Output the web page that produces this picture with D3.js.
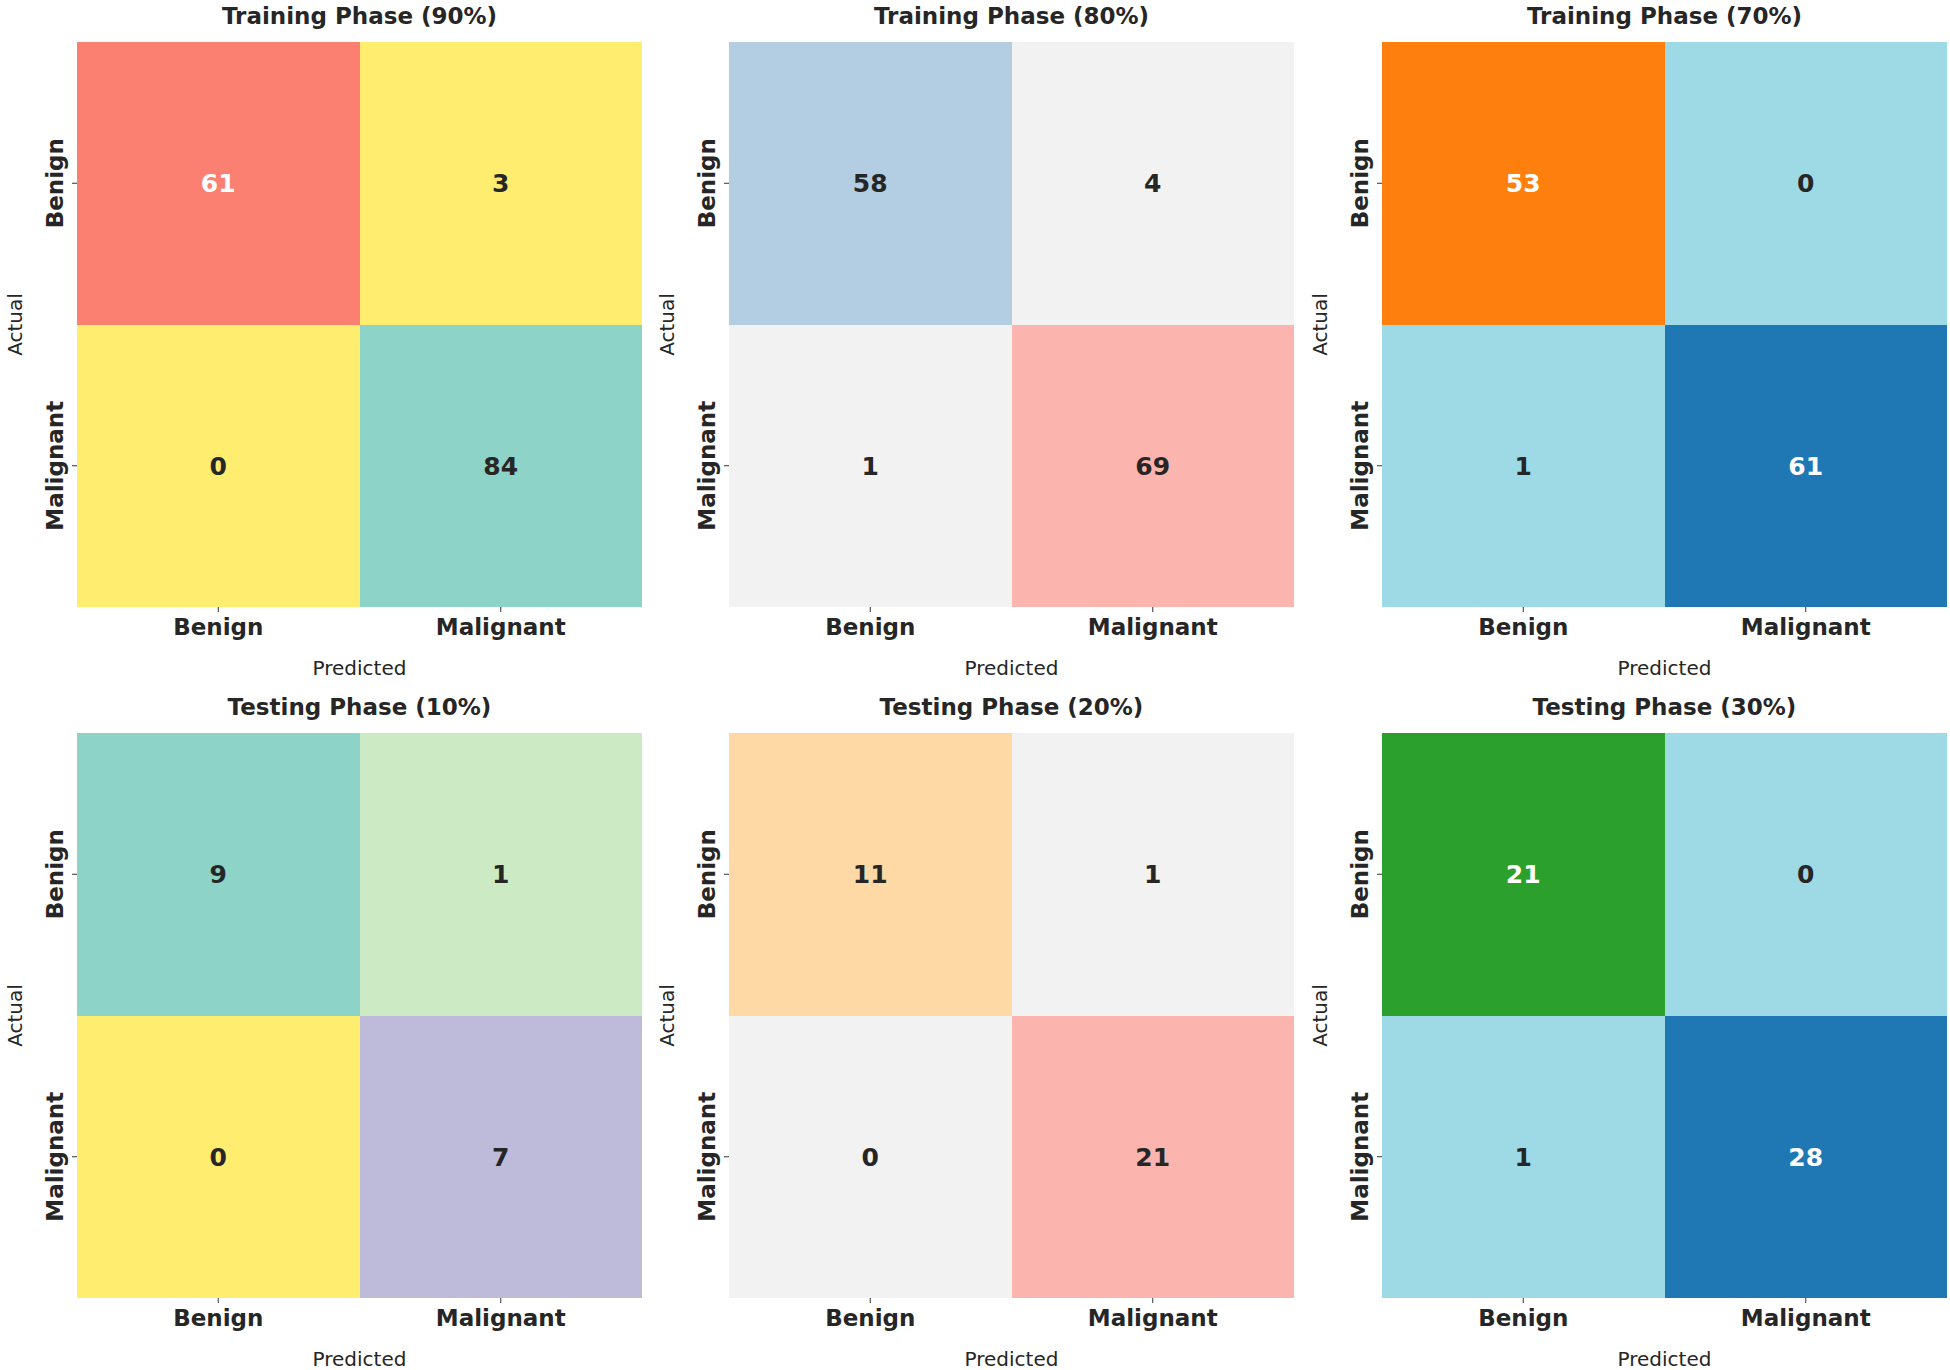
<!DOCTYPE html>
<html>
<head>
<meta charset="utf-8">
<script src="https://cdn.jsdelivr.net/npm/d3@7"></script>
<style>
  body { margin: 0; background: #fff; }
  text { font-family: "DejaVu Sans", sans-serif; }
</style>
</head>
<body>
<div id="chart"></div>
<script>
const classes = ["Benign", "Malignant"];

const titles = [
  "Training Phase (90%)", "Training Phase (80%)", "Training Phase (70%)",
  "Testing Phase (10%)", "Testing Phase (20%)", "Testing Phase (30%)"
];

// rows = actual, cols = predicted
const train90 = [[61, 3], [0, 84]];
const train80 = [[58, 4], [1, 69]];
const train70 = [[53, 0], [1, 61]];
const test10 = [[9, 1], [0, 7]];
const test20 = [[11, 1], [0, 21]];
const test30 = [[21, 0], [1, 28]];

const matrices = [train90, train80, train70, test10, test20, test30];

// colour maps used per panel (matplotlib names, reversed)
const tab20 = ["#1f77b4", "#aec7e8", "#ff7f0e", "#ffbb78", "#2ca02c", "#98df8a",
  "#d62728", "#ff9896", "#9467bd", "#c5b0d5", "#8c564b", "#c49c94",
  "#e377c2", "#f7b6d2", "#7f7f7f", "#c7c7c7", "#bcbd22", "#dbdb8d",
  "#17becf", "#9edae5"];
const palettes = [d3.schemeSet3, d3.schemePastel1, tab20];
const panelPalette = [0, 1, 2, 0, 1, 2];

const W = 1950, H = 1370, size = 565;
const lefts = [77, 729, 1382], tops = [42, 733];

const svg = d3.select("#chart").append("svg")
  .attr("width", W)
  .attr("height", H);

function lum(c) {
  const rgb = d3.rgb(c);
  const f = v => { v /= 255; return v <= 0.03928 ? v / 12.92 : Math.pow((v + 0.055) / 1.055, 2.4); };
  return 0.2126 * f(rgb.r) + 0.7152 * f(rgb.g) + 0.0722 * f(rgb.b);
}

matrices.forEach((m, i) => {
  const g = svg.append("g")
    .attr("transform", "translate(" + lefts[i % 3] + "," + tops[Math.floor(i / 3)] + ")");

  const x = d3.scaleBand().domain(classes).range([0, size]);
  const y = d3.scaleBand().domain(classes).range([0, size]);

  const flat = m.flat();
  const color = d3.scaleQuantize()
    .domain(d3.extent(flat))
    .range(palettes[panelPalette[i]].slice().reverse());

  const cells = [];
  m.forEach((row, r) => row.forEach((v, c) => cells.push({r: classes[r], c: classes[c], v})));

  g.selectAll("rect").data(cells).join("rect")
    .attr("x", d => x(d.c))
    .attr("y", d => y(d.r))
    .attr("width", x.bandwidth())
    .attr("height", y.bandwidth())
    .attr("fill", d => color(d.v))
    .attr("shape-rendering", "crispEdges");

  g.selectAll("text.val").data(cells).join("text")
    .attr("class", "val")
    .attr("x", d => x(d.c) + x.bandwidth() / 2)
    .attr("y", d => y(d.r) + y.bandwidth() / 2)
    .attr("dy", "0.36em")
    .attr("text-anchor", "middle")
    .style("font-size", "25px")
    .style("font-weight", "bold")
    .attr("fill", d => lum(color(d.v)) > 0.408 ? "#262626" : "#ffffff")
    .text(d => d.v);

  // x axis
  const xa = g.append("g")
    .attr("transform", "translate(0," + size + ")")
    .call(d3.axisBottom(x).tickSize(5));
  xa.select(".domain").remove();
  xa.selectAll(".tick line").attr("stroke", "#333");
  xa.selectAll(".tick text")
    .attr("y", 20)
    .attr("dy", "0.36em")
    .attr("fill", "#262626")
    .style("font-size", "23px")
    .style("font-weight", "bold");

  // y axis
  const ya = g.append("g")
    .call(d3.axisLeft(y).tickSize(5));
  ya.select(".domain").remove();
  ya.selectAll(".tick line").attr("stroke", "#333");
  ya.selectAll(".tick text")
    .attr("transform", "rotate(-90)")
    .attr("x", 0)
    .attr("y", -22)
    .attr("dy", "0.36em")
    .attr("text-anchor", "middle")
    .attr("fill", "#262626")
    .style("font-size", "23px")
    .style("font-weight", "bold");

  g.append("text")
    .attr("x", size / 2)
    .attr("y", -26)
    .attr("dy", "0.36em")
    .attr("text-anchor", "middle")
    .attr("fill", "#262626")
    .style("font-size", "23px")
    .style("font-weight", "bold")
    .text(titles[i]);

  g.append("text")
    .attr("x", size / 2)
    .attr("y", size + 61)
    .attr("dy", "0.36em")
    .attr("text-anchor", "middle")
    .attr("fill", "#262626")
    .style("font-size", "20px")
    .text("Predicted");

  g.append("text")
    .attr("transform", "translate(-62," + size / 2 + ") rotate(-90)")
    .attr("dy", "0.36em")
    .attr("text-anchor", "middle")
    .attr("fill", "#262626")
    .style("font-size", "20px")
    .text("Actual");
});
</script>
</body>
</html>
